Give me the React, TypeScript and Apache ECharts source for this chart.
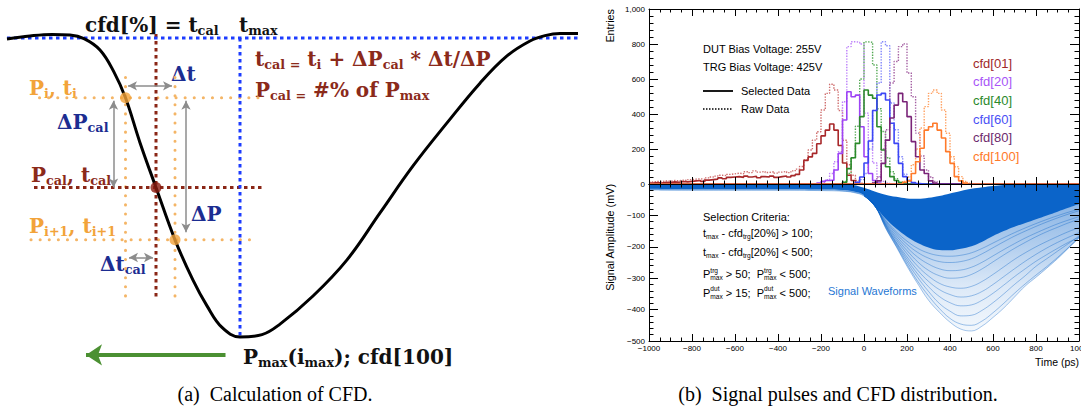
import React, { useEffect, useRef } from "react";
import * as echarts from "echarts";

// ================= Panel (a): schematic of the CFD calculation =================
// time in arbitrary ps-like units (t_max = 0), amplitude in % of P_max
const pulseTime = [-466, -420, -376, -340, -312, -280, -252, -229, -200, -168, -130, -94, -66, -36, 0, 44, 80, 146, 214, 280, 346, 414, 480, 534, 580, 610, 640, 676];
const pulseAmp = [-0.3, 0.7, 1.2, 1.0, -0.2, -4, -11.4, -20, -35, -50, -67.5, -81, -89.6, -96.8, -100, -99.2, -95.7, -86.3, -74.2, -58.5, -42.8, -28.4, -15.1, -6, -1, 0.8, 1.5, 1.5];
const pointI = [-229, -20];
const pointCal = [-168, -50];
const pointI1 = [-130, -67.5];
const blueGuides = [[[-466, 0], [676, 0]], [[0, 0], [0, -100]]];
const maroonGuides = [[[-168, 1.3], [-168, -87.6]], [[-412, -50], [50, -50]]];
const orangeGuides = [[[-401, -20], [36, -20]], [[-418, -67.5], [36, -67.5]], [[-229, -13.2], [-229, -86.6]], [[-130, -13.2], [-130, -86.6]]];
const grayArrows = [[[-224, -16], [-136, -16]], [[-253, -21], [-253, -50]], [[-108, -21], [-108, -65]], [[-222, -73.4], [-174, -73.4]]];
const greenArrow = [[-29, -106], [-308, -106]];

// ================= Panel (b): CFD histograms (20 ps bins) =================
const binWidth = 20;
const cfdNames = ["cfd[01]", "cfd[20]", "cfd[40]", "cfd[60]", "cfd[80]", "cfd[100]"];
const selStarts = [-1000, -220, -100, -40, 40, 180];
const rawStarts = [-1000, -200, -100, -40, 40, 180];
const sel01 = [5, 8, 6, 10, 8, 12, 10, 14, 12, 15, 18, 20, 15, 22, 25, 28, 35, 30, 38, 40, 42, 38, 45, 40, 44, 36, 42, 40, 45, 38, 42, 46, 40, 48, 55, 80, 135, 155, 175, 230, 275, 308, 343, 308, 220, 120, 50, 20, 5];
const raw01 = [12, 15, 14, 18, 16, 20, 18, 22, 20, 25, 28, 30, 26, 35, 40, 45, 50, 48, 55, 58, 62, 58, 70, 65, 75, 68, 72, 66, 70, 62, 68, 72, 65, 75, 85, 100, 137, 194, 251, 299, 423, 518, 570, 537, 420, 250, 110, 50, 20, 5];
const sel20 = [5, 15, 20, 22, 80, 175, 366, 527, 499, 508, 327, 156, 60, 20, 5];
const raw20 = [10, 25, 60, 127, 185, 470, 785, 813, 810, 800, 405, 251, 120, 42, 15, 5];
const sel40 = [10, 88, 150, 232, 385, 537, 508, 490, 327, 194, 99, 42, 20, 8];
const raw40 = [15, 60, 150, 330, 600, 812, 810, 680, 430, 300, 150, 70, 30, 10];
const sel60 = [10, 40, 120, 246, 420, 509, 518, 480, 347, 232, 118, 42, 20, 8, 3];
const raw60 = [10, 25, 60, 200, 420, 577, 813, 790, 463, 310, 156, 56, 20, 5];
const sel80 = [5, 18, 118, 251, 377, 451, 518, 470, 385, 242, 156, 80, 60, 18, 5];
const raw80 = [10, 40, 200, 310, 577, 700, 785, 801, 634, 499, 291, 160, 80, 40, 15];
const sel100 = [10, 18, 60, 127, 204, 308, 327, 347, 308, 263, 185, 118, 42, 18, 5];
const raw100 = [15, 40, 110, 200, 320, 442, 518, 537, 518, 423, 290, 156, 99, 42, 15, 5];
const selValues = [sel01, sel20, sel40, sel60, sel80, sel100];
const rawValues = [raw01, raw20, raw40, raw60, raw80, raw100];

// ================= Panel (b): signal waveforms (mV) =================
const waveTime = [-1000, -800, -600, -400, -200, -100, -50, 0, 50, 100, 150, 200, 250, 300, 350, 400, 450, 500, 550, 600, 650, 700, 750, 800, 850, 900, 950, 1000];
const waveUpper = [0, 0, 0, 0, 0, -1, -3, -12, -24, -34, -41, -46, -47, -44, -38, -30, -22, -15, -10, -6, -3, -1, 0, 0, 0, 0, 0, 0];
const waveDense = [-15, -16, -16, -16, -17, -19, -23, -35, -70, -110, -142, -168, -188, -202, -210, -211, -206, -198, -184, -166, -150, -136, -124, -112, -100, -88, -76, -64];
const waveOuter = [-19, -20, -20, -20, -21, -23, -27, -38, -68, -140, -200, -262, -318, -370, -408, -440, -462, -468, -452, -425, -395, -360, -325, -297, -268, -238, -205, -172];
const pulseWaveTime = [0, 50, 100, 150, 200, 250, 300, 350, 400, 450, 500, 550, 600, 650, 700, 750, 800, 850, 900, 950, 1000];
const wave1 = [-35, -70, -118, -158, -192, -218, -236, -247, -250, -247, -238, -222, -203, -184, -166, -150, -135, -121, -108, -96, -85];
const wave2 = [-36, -70, -125, -172, -212, -248, -275, -292, -300, -298, -288, -270, -248, -226, -205, -186, -168, -152, -138, -124, -112];
const wave3 = [-37, -69, -130, -185, -232, -275, -310, -336, -352, -360, -356, -342, -320, -295, -270, -246, -224, -204, -186, -170, -155];
const wave4 = [-38, -69, -135, -192, -248, -298, -342, -380, -405, -420, -418, -402, -378, -350, -320, -292, -262, -238, -214, -190, -166];
const wave5 = [-35, -70, -115, -152, -182, -205, -220, -228, -230, -227, -219, -205, -188, -171, -155, -140, -126, -113, -101, -90, -80];
const wave6 = [-36, -70, -122, -165, -202, -233, -255, -270, -276, -274, -265, -249, -229, -209, -190, -172, -156, -141, -127, -115, -104];
const wave7 = [-36, -69, -128, -178, -222, -262, -293, -316, -328, -332, -326, -310, -288, -264, -240, -219, -200, -183, -167, -152, -139];
const wave8 = [-37, -69, -132, -188, -240, -287, -327, -358, -378, -388, -385, -370, -348, -322, -295, -270, -246, -225, -205, -186, -170];
const wave9 = [-38, -68, -138, -197, -256, -310, -356, -396, -428, -446, -450, -436, -410, -380, -348, -318, -290, -263, -234, -203, -170];

// ---------------- styles ----------------
const selColors = ["#a8282a", "#9d44f5", "#2b8a2b", "#3c46f5", "#7a2478", "#ff7a2a"];
const rawColors = ["#cf6e6e", "#bd80fa", "#52a852", "#8086fa", "#a45fa2", "#ffa060"];
const labelColors = ["#a0282a", "#a855f7", "#2b8a2b", "#4a50f5", "#6e2a6e", "#ff7a2a"];
const SERIF = "DejaVu Serif";
const SANS = "Liberation Sans";

let measureCtx: CanvasRenderingContext2D | null = null;
function measure(t: string, size: number, family: string, weight: string) {
  if (!measureCtx) measureCtx = document.createElement("canvas").getContext("2d");
  if (!measureCtx) return t.length * size * 0.55;
  measureCtx.font = `${weight} ${size}px "${family}"`;
  return measureCtx.measureText(t).width;
}

type Seg = [string, string?] | { sup: string; sub: string };
type RunStyle = { size: number; family: string; weight: string; color: string; ratio: number; subDy: number; supDy: number };

function txt(x: number, y: number, text: string, size: number, st: RunStyle, align = "left") {
  return {
    type: "text",
    x,
    y,
    silent: true,
    style: {
      text,
      fontSize: size,
      fontFamily: st.family,
      fontWeight: st.weight,
      fill: st.color,
      align,
      verticalAlign: "middle",
      textAlign: align,
      textVerticalAlign: "middle",
    },
  };
}

function run(x: number, y: number, segs: Seg[], st: RunStyle) {
  const out: any[] = [];
  let cx = x;
  const small = st.size * st.ratio;
  for (const s of segs) {
    if (Array.isArray(s)) {
      const [t, k] = s;
      const size = k ? small : st.size;
      const dy = k === "sub" ? st.size * st.subDy : k === "sup" ? -st.size * st.supDy : 0;
      const lead = t.length - t.replace(/^\s+/, "").length;
      const trail = t.length - t.replace(/\s+$/, "").length;
      const core = t.trim().replace(/ {2}/g, "\u00a0 ");
      const sw = measure(" ", size, st.family, st.weight);
      cx += lead * sw;
      if (core) out.push(txt(cx, y + dy, core, size, st));
      cx += measure(core, size, st.family, st.weight) + trail * sw;
    } else {
      out.push(txt(cx, y - st.size * st.supDy, s.sup, small, st));
      out.push(txt(cx, y + st.size * st.subDy, s.sub, small, st));
      cx += Math.max(measure(s.sup, small, st.family, st.weight), measure(s.sub, small, st.family, st.weight));
    }
  }
  return out;
}

function histData(start: number, vals: number[]) {
  const d: number[][] = [];
  for (let e = -1000; e < 1000; e += binWidth) {
    const i = Math.round((e - start) / binWidth);
    d.push([e, i >= 0 && i < vals.length ? vals[i] : 0]);
  }
  d.push([1000, 0]);
  return d;
}

function zip(a: number[], b: number[]) {
  return a.map((v, i) => [v, b[i]]);
}

function frameAxis(extra: any) {
  return Object.assign(
    {
      type: "value",
      z: 10,
      axisLine: { show: true, onZero: false, lineStyle: { color: "#000", width: 1 } },
      axisTick: { show: true, inside: true, length: 8, lineStyle: { color: "#000", width: 1 } },
      minorTick: { show: true, splitNumber: 5, length: 4, lineStyle: { color: "#000", width: 1 } },
      splitLine: { show: false },
      minorSplitLine: { show: false },
      axisLabel: { show: false },
    },
    extra
  );
}

const minusFmt = (v: number) => (v < 0 ? "\u2212" + Math.abs(v) : String(v));

function buildOption() {
  const series: any[] = [];

  // ---- panel (a) guides ----
  const guide = (pts: number[][], ls: any) => ({
    type: "line",
    xAxisIndex: 0,
    yAxisIndex: 0,
    data: pts,
    symbol: "none",
    silent: true,
    lineStyle: ls,
    z: 2,
  });
  orangeGuides.forEach((g) => series.push(guide(g, { color: "#f4b566", width: 3, type: [0.1, 9], cap: "round" })));
  maroonGuides.forEach((g) => series.push(guide(g, { color: "#8a2616", width: 3, type: [3.5, 3.5] })));
  blueGuides.forEach((g, i) => {
    const s: any = guide(g, { color: "#1c3cff", width: 3, type: [3.5, 3.5] });
    if (i === 0) {
      s.markLine = {
        silent: true,
        symbol: ["none", "arrow"],
        symbolSize: [16, 16],
        label: { show: false },
        lineStyle: { color: "#4b9032", width: 4, type: "solid" },
        data: [[{ coord: greenArrow[0] }, { coord: greenArrow[1] }]],
      };
    }
    series.push(s);
  });
  series.push({
    type: "line",
    xAxisIndex: 0,
    yAxisIndex: 0,
    data: zip(pulseTime, pulseAmp),
    smooth: 0.4,
    symbol: "none",
    silent: true,
    lineStyle: { color: "#000", width: 3 },
    z: 3,
    markLine: {
      silent: true,
      symbol: ["arrow", "arrow"],
      symbolSize: [7, 9],
      label: { show: false },
      lineStyle: { color: "#8c8c8c", width: 1.5, type: "solid" },
      data: grayArrows.map((a) => [{ coord: a[0] }, { coord: a[1] }]),
    },
  });
  series.push({
    type: "scatter",
    xAxisIndex: 0,
    yAxisIndex: 0,
    symbolSize: 11,
    silent: true,
    z: 4,
    data: [
      { value: pointI, itemStyle: { color: "#f2a33a" } },
      { value: pointI1, itemStyle: { color: "#f2a33a" } },
      { value: pointCal, itemStyle: { color: "#8b1c10" } },
    ],
  });

  // ---- panel (b) histograms ----
  rawValues.forEach((v, i) =>
    series.push({
      type: "line",
      name: cfdNames[i] + " raw",
      xAxisIndex: 1,
      yAxisIndex: 1,
      step: "end",
      symbol: "none",
      silent: true,
      data: histData(rawStarts[i], v),
      lineStyle: { color: rawColors[i], width: 1.4, type: [1.4, 1.4] },
    })
  );
  selValues.forEach((v, i) =>
    series.push({
      type: "line",
      name: cfdNames[i],
      xAxisIndex: 1,
      yAxisIndex: 1,
      step: "end",
      symbol: "none",
      silent: true,
      data: histData(selStarts[i], v),
      lineStyle: { color: selColors[i], width: 1.6 },
    })
  );

  // ---- panel (b) waveforms ----
  series.push({
    type: "line",
    xAxisIndex: 3,
    yAxisIndex: 3,
    data: zip(waveTime, waveOuter),
    smooth: 0.4,
    symbol: "none",
    silent: true,
    lineStyle: { color: "rgba(11,100,201,0.45)", width: 0.8 },
    areaStyle: {
      color: new echarts.graphic.LinearGradient(0, 0, 0, 1, [
        { offset: 0, color: "rgba(11,100,201,0.8)" },
        { offset: 0.45, color: "rgba(11,100,201,0.42)" },
        { offset: 0.7, color: "rgba(11,100,201,0.2)" },
        { offset: 1, color: "rgba(11,100,201,0.07)" },
      ]),
    },
  });
  [wave9, wave4, wave8, wave3, wave7, wave2, wave6, wave1, wave5].forEach((w) =>
    series.push({
      type: "line",
      xAxisIndex: 3,
      yAxisIndex: 3,
      data: zip(pulseWaveTime, w),
      smooth: 0.4,
      symbol: "none",
      silent: true,
      lineStyle: { color: "rgba(11,100,201,0.55)", width: 0.7 },
    })
  );
  series.push({
    type: "line",
    xAxisIndex: 3,
    yAxisIndex: 3,
    data: zip(waveTime, waveDense),
    smooth: 0.4,
    symbol: "none",
    silent: true,
    lineStyle: { width: 0 },
    areaStyle: { color: "#0b64c9", opacity: 1 },
  });
  series.push({
    type: "line",
    xAxisIndex: 3,
    yAxisIndex: 3,
    data: zip(waveTime, waveUpper),
    smooth: 0.4,
    symbol: "none",
    silent: true,
    lineStyle: { width: 0 },
    areaStyle: { color: "#ffffff", opacity: 1 },
  });

  // ---- texts ----
  const serif = (color: string, size = 20): RunStyle => ({ size, family: SERIF, weight: "bold", color, ratio: 0.64, subDy: 0.28, supDy: 0.3 });
  const sans = (color: string, size = 11): RunStyle => ({ size, family: SANS, weight: "normal", color, ratio: 0.6, subDy: 0.3, supDy: 0.36 });
  const black = serif("#111111");
  const maroon = serif("#8b2a1a");
  const navy = serif("#1c2d91");
  const orange = serif("#f2a33a");
  const g: any[] = [];
  g.push(...run(85, 25, [["cfd[%] = t"], ["cal", "sub"]], black));
  g.push(...run(239, 25, [["t"], ["max", "sub"]], black));
  g.push(...run(255, 58.5, [["t"], ["cal =", "sub"], [" t"], ["i", "sub"], [" + \u0394P"], ["cal", "sub"], [" * \u0394t/\u0394P"]], maroon));
  g.push(...run(255, 89.5, [["P"], ["cal =", "sub"], [" #% of P"], ["max", "sub"]], maroon));
  g.push(...run(171, 74, [["\u0394t"]], navy));
  g.push(...run(29, 88, [["P"], ["i", "sub"], [", t"], ["i", "sub"]], orange));
  g.push(...run(57, 122, [["\u0394P"], ["cal", "sub"]], navy));
  g.push(...run(31, 175, [["P"], ["cal", "sub"], [", t"], ["cal", "sub"]], maroon));
  g.push(...run(191, 214, [["\u0394P"]], navy));
  g.push(...run(29, 226, [["P"], ["i+1", "sub"], [", t"], ["i+1", "sub"]], orange));
  g.push(...run(100, 264, [["\u0394t"], ["cal", "sub"]], navy));
  g.push(...run(243, 357, [["P"], ["max", "sub"], ["(i"], ["max", "sub"], ["); cfd[100]"]], black));

  const cap: RunStyle = { size: 20, family: "Liberation Serif", weight: "normal", color: "#000", ratio: 1, subDy: 0, supDy: 0 };
  g.push(txt(275, 394, "(a)\u2002Calculation of CFD.", 20, cap, "center"));
  g.push(txt(838, 394, "(b)\u2002Signal pulses and CFD distribution.", 20, cap, "center"));

  const k11 = sans("#000", 11);
  g.push(txt(703, 49, "DUT Bias Voltage: 255V", 11, k11));
  g.push(txt(703, 67, "TRG Bias Voltage: 425V", 11, k11));
  g.push({ type: "line", silent: true, shape: { x1: 703, y1: 91, x2: 733, y2: 91 }, style: { stroke: "#000", lineWidth: 1.8 } });
  g.push({ type: "line", silent: true, shape: { x1: 703, y1: 109, x2: 733, y2: 109 }, style: { stroke: "#000", lineWidth: 1.6, lineDash: [1.5, 1.5] } });
  g.push(txt(741, 91, "Selected Data", 11, k11));
  g.push(txt(741, 109, "Raw Data", 11, k11));
  const legendY = [63.3, 81.7, 100, 119, 137.5, 156];
  cfdNames.forEach((n, i) => g.push(txt(973, legendY[i], n, 13, sans(labelColors[i], 13))));

  const titleSt = sans("#000", 10.8);
  g.push(Object.assign(txt(610, 9, "Entries", 10.8, titleSt, "right"), { rotation: Math.PI / 2 }));
  g.push(Object.assign(txt(610, 184, "Signal Amplitude (mV)", 10.8, titleSt, "right"), { rotation: Math.PI / 2 }));
  g.push(txt(1079, 362, "Time (ps)", 10.5, titleSt, "right"));

  g.push(txt(703, 217.3, "Selection Criteria:", 11, k11));
  g.push(...run(703, 232.7, [["t"], ["max", "sub"], [" - cfd"], ["trg", "sub"], ["[20%] > 100;"]], k11));
  g.push(...run(703, 251.7, [["t"], ["max", "sub"], [" - cfd"], ["trg", "sub"], ["[20%] < 500;"]], k11));
  g.push(...run(703, 274, [["P"], { sup: "trg", sub: "max" }, [" > 50;  P"], { sup: "trg", sub: "max" }, [" < 500;"]], k11));
  g.push(...run(703, 292.7, [["P"], { sup: "dut", sub: "max" }, [" > 15;  P"], { sup: "dut", sub: "max" }, [" < 500;"]], k11));
  g.push(txt(828, 291, "Signal Waveforms", 11, sans("#1f77d4", 11)));

  const tickLabel = { fontFamily: SANS, fontSize: 8, color: "#000" };
  const xTicks = { axisTick: { show: true, inside: true, length: 7, lineStyle: { color: "#000" } }, minorTick: { show: true, splitNumber: 4, length: 3.5, lineStyle: { color: "#000" } } };
  const yTicks = { axisTick: { show: true, inside: true, length: 9, lineStyle: { color: "#000" } }, minorTick: { show: true, splitNumber: 5, length: 4.5, lineStyle: { color: "#000" } } };

  return {
    animation: false,
    backgroundColor: "#ffffff",
    grid: [
      { left: 0, top: 8.1, width: 600, height: 388.7, outerBoundsMode: "none", containLabel: false },
      { left: 649, top: 9, width: 430, height: 175, outerBoundsMode: "none", containLabel: false },
      { left: 649, top: 184, width: 430, height: 157, outerBoundsMode: "none", containLabel: false },
    ],
    xAxis: [
      { type: "value", gridIndex: 0, min: -480, max: 720, show: false },
      frameAxis({ gridIndex: 1, position: "bottom", min: -1000, max: 1000, interval: 200, ...xTicks }),
      frameAxis({ gridIndex: 1, position: "top", min: -1000, max: 1000, interval: 200, ...xTicks }),
      frameAxis({
        gridIndex: 2,
        position: "bottom",
        min: -1000,
        max: 1000,
        interval: 200,
        ...xTicks,
        axisLabel: { show: true, margin: 3, formatter: minusFmt, ...tickLabel },
      }),
      frameAxis({ gridIndex: 2, position: "top", min: -1000, max: 1000, interval: 200, ...xTicks }),
    ],
    yAxis: [
      { type: "value", gridIndex: 0, min: -120, max: 10, show: false },
      frameAxis({ gridIndex: 1, position: "left", min: 0, max: 1000, interval: 200, ...yTicks, axisLabel: { show: true, margin: 4, ...tickLabel } }),
      frameAxis({ gridIndex: 1, position: "right", min: 0, max: 1000, interval: 200, ...yTicks }),
      frameAxis({
        gridIndex: 2,
        position: "left",
        min: -500,
        max: 0,
        interval: 100,
        ...yTicks,
        axisLabel: { show: true, margin: 4, showMaxLabel: false, formatter: minusFmt, ...tickLabel },
      }),
      frameAxis({ gridIndex: 2, position: "right", min: -500, max: 0, interval: 100, ...yTicks }),
    ],
    series,
    graphic: g,
  };
}

export default function App() {
  const ref = useRef<HTMLDivElement>(null);
  useEffect(() => {
    if (!ref.current) return;
    const chart = echarts.init(ref.current, undefined, { renderer: "svg" });
    chart.setOption(buildOption() as any);
    return () => chart.dispose();
  }, []);
  return <div ref={ref} style={{ position: "fixed", left: 0, top: 0, width: 1081, height: 419, background: "#fff" }} />;
}
